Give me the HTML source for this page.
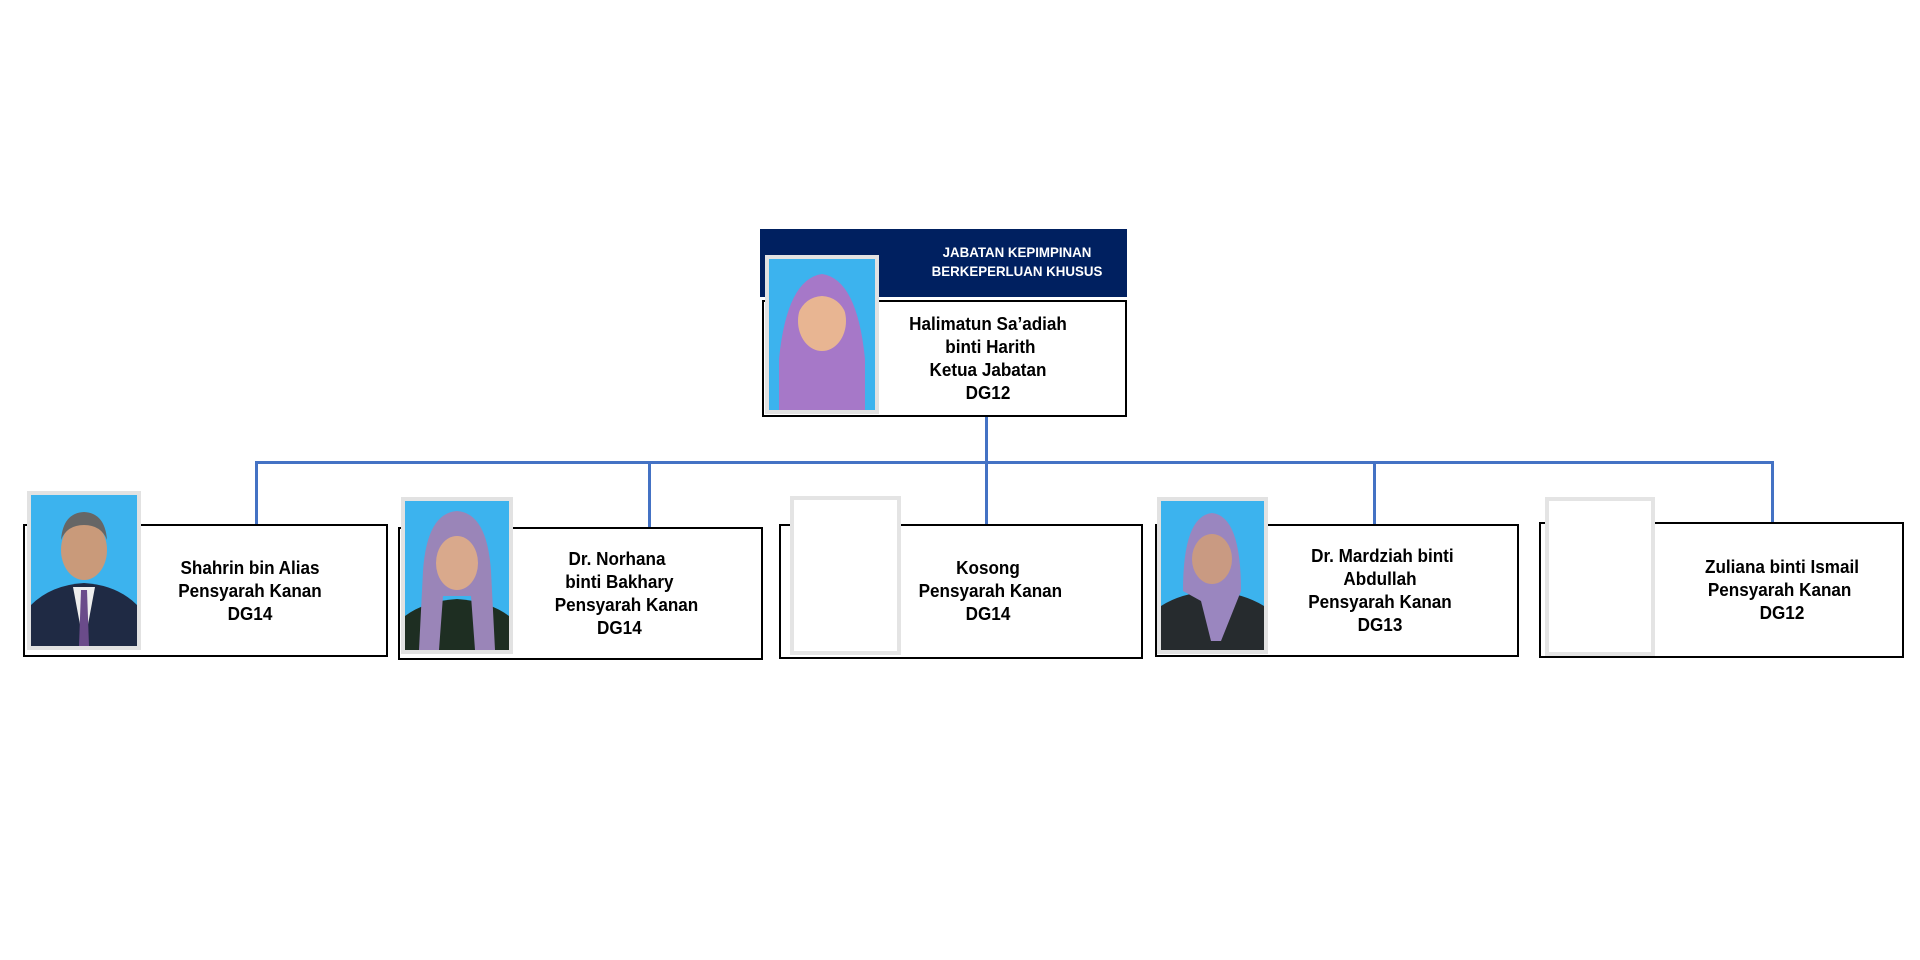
<!DOCTYPE html>
<html><head><meta charset="utf-8"><style>
*{margin:0;padding:0;box-sizing:border-box}
body{width:1920px;height:960px;background:#fff;position:relative;overflow:hidden;font-family:"Liberation Sans",Arial,sans-serif}
.box{position:absolute;border:2px solid #000;background:#fff}
.ph{position:absolute;border:4px solid #e2e2e2;background:#3cb3ee;overflow:hidden}
.ph.blank{background:#fff;border-color:#e4e4e4}
.t{position:absolute;text-align:center;font-weight:bold;font-size:18px;line-height:23px;color:#000;white-space:pre;transform:translateX(-50%) scaleX(0.95)}
.ln{position:absolute;background:#4472c4}
</style></head><body>
<!-- connectors -->
<div class="ln" style="left:985px;top:416px;width:3px;height:108px"></div>
<div class="ln" style="left:255px;top:461px;width:1518px;height:3px"></div>
<div class="ln" style="left:255px;top:461px;width:3px;height:64px"></div>
<div class="ln" style="left:648px;top:461px;width:3px;height:67px"></div>
<div class="ln" style="left:1373px;top:461px;width:3px;height:64px"></div>
<div class="ln" style="left:1771px;top:461px;width:3px;height:62px"></div>

<!-- header -->
<div style="position:absolute;left:760px;top:229px;width:367px;height:68px;background:#002060"></div>
<div class="t" style="left:1017px;top:243px;color:#fff;font-size:14px;line-height:19px">JABATAN KEPIMPINAN
BERKEPERLUAN KHUSUS</div>
<div class="box" style="left:762px;top:300px;width:365px;height:117px"></div>
<div class="ph" style="left:765px;top:255px;width:114px;height:159px">
<svg width="106" height="151" viewBox="0 0 106 151"><path d="M10 151 L10 100 Q18 20 53 15 Q88 20 96 100 L96 151Z" fill="#a678c8"/><ellipse cx="53" cy="62" rx="24" ry="30" fill="#e8b592"/><path d="M29 55 Q30 25 53 24 Q76 25 77 55 Q70 38 53 37 Q36 38 29 55Z" fill="#a678c8"/></svg></div>
<div class="t" style="left:988px;top:313px">Halimatun Sa’adiah
 binti Harith
Ketua Jabatan
DG12</div>

<!-- child 1 -->
<div class="box" style="left:23px;top:524px;width:365px;height:133px"></div>
<div class="ph" style="left:27px;top:491px;width:114px;height:159px">
<svg width="106" height="151" viewBox="0 0 106 151"><path d="M0 151 L0 110 Q20 90 53 88 Q86 90 106 110 L106 151Z" fill="#1f2a44"/><path d="M42 92 L53 151 L64 92Z" fill="#eee"/><path d="M50 95 L56 95 L58 151 L48 151Z" fill="#6a4b8a"/><ellipse cx="53" cy="55" rx="23" ry="30" fill="#c99a7a"/><path d="M30 45 Q32 18 53 17 Q74 18 76 45 Q70 30 53 30 Q36 30 30 45Z" fill="#666"/></svg></div>
<div class="t" style="left:250px;top:557px">Shahrin bin Alias
Pensyarah Kanan
DG14</div>

<!-- child 2 -->
<div class="box" style="left:398px;top:527px;width:365px;height:133px"></div>
<div class="ph" style="left:401px;top:497px;width:112px;height:157px">
<svg width="104" height="149" viewBox="0 0 104 149"><path d="M0 149 L0 115 Q20 100 52 98 Q84 100 104 115 L104 149Z" fill="#1e2e22"/><path d="M14 149 L18 70 Q22 12 52 10 Q82 12 86 70 L90 149 L70 149 L66 95 L38 95 L34 149Z" fill="#9a85b8"/><ellipse cx="52" cy="62" rx="21" ry="27" fill="#d9a98c"/></svg></div>
<div class="t" style="left:617px;top:548px">Dr. Norhana
 binti Bakhary
    Pensyarah Kanan
 DG14</div>

<!-- child 3 -->
<div class="box" style="left:779px;top:524px;width:364px;height:135px"></div>
<div class="ph blank" style="left:790px;top:496px;width:111px;height:159px"></div>
<div class="t" style="left:988px;top:557px">Kosong
 Pensyarah Kanan
DG14</div>

<!-- child 4 -->
<div class="box" style="left:1155px;top:524px;width:364px;height:133px"></div>
<div class="ph" style="left:1157px;top:497px;width:111px;height:157px">
<svg width="103" height="149" viewBox="0 0 103 149"><path d="M0 149 L0 105 Q20 92 51 90 Q82 92 103 105 L103 149Z" fill="#262b2e"/><path d="M22 90 Q22 15 51 12 Q80 15 80 90 L60 140 L50 140 L40 100Z" fill="#9a86bf"/><ellipse cx="51" cy="58" rx="20" ry="25" fill="#c99a82"/></svg></div>
<div class="t" style="left:1380px;top:545px"> Dr. Mardziah binti
Abdullah
Pensyarah Kanan
DG13</div>

<!-- child 5 -->
<div class="box" style="left:1539px;top:522px;width:365px;height:136px"></div>
<div class="ph blank" style="left:1545px;top:497px;width:110px;height:159px"></div>
<div class="t" style="left:1782px;top:556px">Zuliana binti Ismail
Pensyarah Kanan 
DG12</div>
</body></html>
